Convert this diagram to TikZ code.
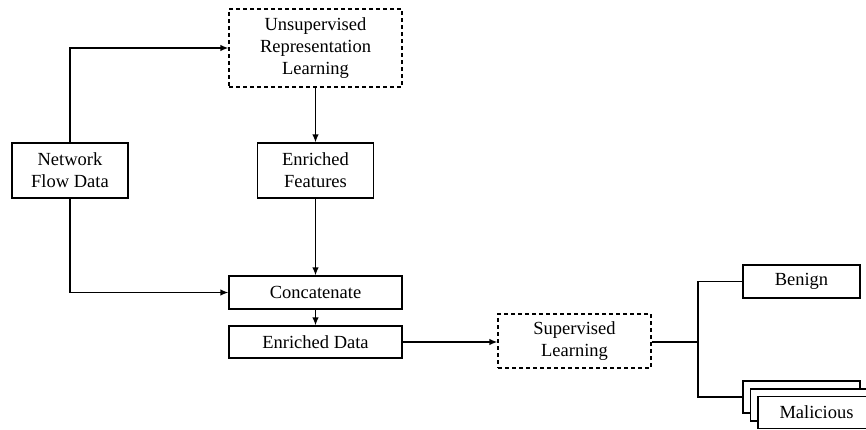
\documentclass[tikz,border=0pt]{standalone}
\usepackage{fontspec}
\setmainfont{Liberation Serif}
\usetikzlibrary{arrows.meta}
\begin{document}
\begin{tikzpicture}[x=1pt,y=-1pt,
  box/.style={draw, line width=1.3pt, fill=white, minimum width=116pt, minimum height=33pt, inner sep=0pt, align=center, font=\fontsize{18.5}{22}\selectfont},
  dbox/.style={box, dash pattern=on 4pt off 3pt},
  arr/.style={-{Latex[length=8pt,width=6.5pt]}, line width=1.3pt},
  ln/.style={line width=1.3pt}]
\useasboundingbox (0,0) rectangle (866,429);
\node[dbox, minimum width=173pt, minimum height=78pt] (unsup) at (315.5,48) {Unsupervised\\Representation\\Learning};
\node[box, minimum height=55pt] (nfd) at (70,170.5) {Network\\Flow Data};
\node[box, minimum height=55pt] (ef) at (315.5,170.5) {Enriched\\Features};
\node[box, minimum width=173pt] (concat) at (315.5,292.5) {Concatenate};
\node[box, minimum width=173pt, minimum height=32pt] (ed) at (315.5,342) {Enriched Data};
\node[dbox, minimum width=153pt, minimum height=54pt] (sup) at (574.5,341) {Supervised\\Learning};
\node[box, minimum width=117pt] (benign) at (801.5,281.5) {Benign};
\node[box, minimum width=117pt, minimum height=32pt] (m1) at (801.5,397) {};
\node[box, minimum width=117pt, minimum height=32pt] (m2) at (809,405) {};
\node[box, minimum width=117pt, minimum height=32pt] (m3) at (816.5,412.5) {Malicious};
\coordinate (j) at (698,342);
\draw[arr] (nfd.north) |- (unsup.west);
\draw[arr] (unsup.south) -- (ef.north);
\draw[arr] (ef.south) -- (concat.north);
\draw[arr] (nfd.south) |- (concat.west);
\draw[arr] (concat.south) -- (ed.north);
\draw[arr] (ed.east) -- (ed.east -| sup.west);
\draw[line width=2.2pt] (sup.east |- j) -- (j);
\draw[ln] (j) |- (benign.west);
\draw[ln] (j) |- (m1.west);
\end{tikzpicture}
\end{document}
